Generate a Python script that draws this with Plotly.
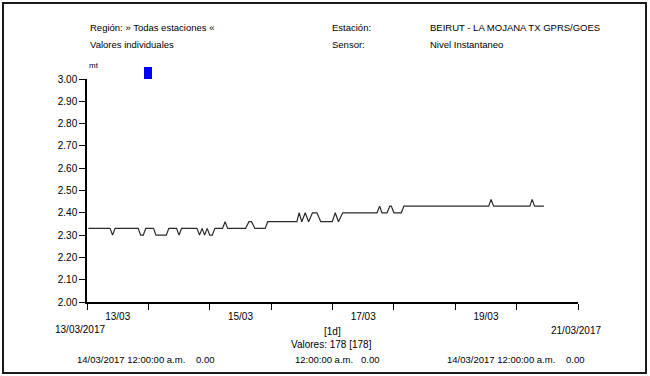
import plotly.graph_objects as go

# ---- data (vertices) ----
times = [
    "2017-03-13 00:30", "2017-03-13 09:00", "2017-03-13 10:00", "2017-03-13 11:00",
    "2017-03-13 20:00", "2017-03-13 21:00", "2017-03-13 22:00", "2017-03-13 23:00",
    "2017-03-14 02:00", "2017-03-14 03:00", "2017-03-14 07:00", "2017-03-14 08:00",
    "2017-03-14 11:00", "2017-03-14 12:00", "2017-03-14 13:00",
    "2017-03-14 19:00", "2017-03-14 20:00", "2017-03-14 21:00", "2017-03-14 22:00",
    "2017-03-14 23:00", "2017-03-15 00:00", "2017-03-15 01:00", "2017-03-15 02:00",
    "2017-03-15 05:00", "2017-03-15 06:00", "2017-03-15 07:00",
    "2017-03-15 14:00", "2017-03-15 15:20", "2017-03-15 16:20", "2017-03-15 17:40",
    "2017-03-15 21:40", "2017-03-15 22:40",
    "2017-03-16 10:05", "2017-03-16 10:55", "2017-03-16 12:00", "2017-03-16 13:20",
    "2017-03-16 14:40", "2017-03-16 16:10", "2017-03-16 17:55", "2017-03-16 19:25",
    "2017-03-16 23:55", "2017-03-17 01:05", "2017-03-17 02:20", "2017-03-17 04:00",
    "2017-03-17 17:25", "2017-03-17 18:25", "2017-03-17 19:20", "2017-03-17 21:20",
    "2017-03-17 22:25", "2017-03-17 23:00", "2017-03-18 00:00", "2017-03-18 02:55",
    "2017-03-18 03:55", "2017-03-19 13:05", "2017-03-19 14:00", "2017-03-19 15:00",
    "2017-03-20 05:10", "2017-03-20 06:05", "2017-03-20 07:00", "2017-03-20 10:40",
]
levels = [
    2.33, 2.33, 2.30, 2.33,
    2.33, 2.30, 2.30, 2.33,
    2.33, 2.30, 2.30, 2.33,
    2.33, 2.30, 2.33,
    2.33, 2.30, 2.33, 2.30,
    2.33, 2.30, 2.30, 2.33,
    2.33, 2.36, 2.33,
    2.33, 2.36, 2.36, 2.33,
    2.33, 2.36,
    2.36, 2.40, 2.36, 2.40,
    2.36, 2.40, 2.40, 2.36,
    2.36, 2.40, 2.36, 2.40,
    2.40, 2.43, 2.40, 2.40,
    2.43, 2.43, 2.40, 2.40,
    2.43, 2.43, 2.46, 2.43,
    2.43, 2.46, 2.43, 2.43,
]

x_label_vals = ["2017-03-13 12:00", "2017-03-15 12:00", "2017-03-17 12:00", "2017-03-19 12:00"]
x_label_text = ["13/03", "15/03", "17/03", "19/03"]

FONT = "Liberation Sans Narrow, Arial Narrow, Liberation Sans, Arial, sans-serif"

W, H = 650, 376
ML, MR, MT, MB = 87, 72, 79, 74
PW, PH = W - ML - MR, H - MT - MB


def px(x):
    return (x - ML) / PW


def py(y):
    return (H - MB - y) / PH


fig = go.Figure()
fig.add_trace(go.Scatter(x=times, y=levels, mode="lines",
                         line=dict(color="#2a2a2a", width=1.2),
                         hoverinfo="skip", showlegend=False))

fig.update_layout(
    width=W, height=H,
    margin=dict(l=ML, r=MR, t=MT, b=MB, pad=0),
    paper_bgcolor="white", plot_bgcolor="white",
    font=dict(family=FONT, size=10, color="black"),
    showlegend=False,
)
fig.update_xaxes(
    type="date", range=["2017-03-13", "2017-03-21"],
    showgrid=False, zeroline=False,
    showline=True, linecolor="black", linewidth=1.5,
    tickmode="array", tickvals=x_label_vals, ticktext=x_label_text,
    ticks="outside", ticklen=4, tickcolor="rgba(0,0,0,0)",
    tickfont=dict(family=FONT, size=10, color="black"),
    minor=dict(ticks="outside", ticklen=6, tickwidth=1.2, tickcolor="black",
               dtick=86400000, tick0="2017-03-13", showgrid=False),
)
fig.update_yaxes(
    range=[2.0, 3.0], dtick=0.1, tick0=2.0, tickformat=".2f",
    showgrid=False, zeroline=False,
    showline=True, linecolor="black", linewidth=1.5,
    ticks="outside", ticklen=6, tickwidth=1.2, tickcolor="black",
    tickfont=dict(family=FONT, size=10, color="black"),
)

ann = []


def txt(s, x, y, xa="left", size=9.5):
    ann.append(dict(text=s, x=px(x), y=py(y), xref="paper", yref="paper",
                    xanchor=xa, yanchor="middle", showarrow=False,
                    font=dict(family=FONT, size=size, color="black")))


txt("Región: » Todas estaciones «", 88, 27)
txt("Valores individuales", 88, 44)
txt("Estación:", 330, 27)
txt("Sensor:", 330, 44)
txt("BEIRUT - LA MOJANA TX GPRS/GOES", 428, 27)
txt("Nivel Instantaneo", 428, 44)
txt("mt", 87, 65, size=8)
txt("13/03/2017", 80, 329, "center", 10)
txt("21/03/2017", 576, 330, "center", 10)
txt("[1d]", 332, 331, "center", 10)
txt("Valores: 178 [178]", 331, 344, "center", 10)
txt("14/03/2017 12:00:00 a.m.", 187, 359, "right", 9.5)
txt("0.00", 194, 359, size=9.5)
txt("12:00:00 a.m.", 293, 359, size=9.5)
txt("0.00", 359, 359, size=9.5)
txt("14/03/2017 12:00:00 a.m.", 557, 359, "right", 9.5)
txt("0.00", 564, 359, size=9.5)
fig.update_layout(annotations=ann)

shapes = [
    dict(type="rect", xref="paper", yref="paper",
         x0=px(3), x1=px(646), y0=py(373), y1=py(3),
         line=dict(color="#1a1a1a", width=2), fillcolor="rgba(0,0,0,0)", layer="above"),
    dict(type="rect", xref="paper", yref="paper",
         x0=px(144), x1=px(152), y0=py(79), y1=py(67),
         line=dict(width=0), fillcolor="#0000ff"),
]
fig.update_layout(shapes=shapes)

fig.write_html("out.html", config={"displayModeBar": False},
               post_script="document.body.style.margin='0';")
